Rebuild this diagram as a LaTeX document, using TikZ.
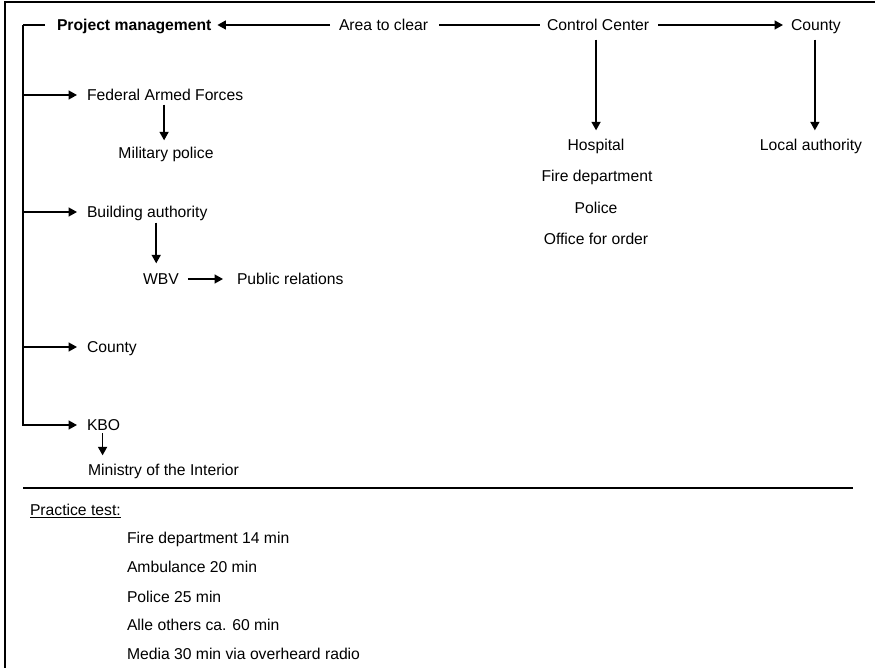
\documentclass[tikz,border=0pt]{standalone}
\usepackage{fontspec}
\setmainfont{Liberation Sans}
\usetikzlibrary{arrows.meta}
\tikzset{
  txt/.style={inner sep=0pt, outer sep=0pt, text height=11.3pt, text depth=0pt, font=\fontsize{15.7}{18}\selectfont},
  ln/.style={line width=1.6pt, draw=black},
  arr/.style={ln, -{Triangle[length=8.5pt,width=9pt]}},
  frame/.style={line width=2.6pt, draw=black},
}
\begin{document}
\begin{tikzpicture}[x=1pt,y=-1pt]
\useasboundingbox (0,0) rectangle (875,668);
% frame
\draw[frame] (5,668) -- (5,2) -- (875,2);

% top row
\node[txt, anchor=west, font=\fontsize{15.7}{18}\selectfont\bfseries] (pm) at (57,25) {Project management};
\node[txt, anchor=west] (area) at (339,25) {Area to clear};
\node[txt, anchor=west] (cc) at (547,25) {Control Center};
\node[txt, anchor=west] (cty) at (791,25) {County};

% right column
\node[txt] (hosp) at (596,145) {Hospital};
\node[txt] (fire) at (597,176) {Fire department};
\node[txt] (pol) at (596,208) {Police};
\node[txt] (off) at (596,239) {Office for order};
\node[txt] (la) at (811,145) {Local authority};

% left tree
\coordinate (trunk) at (23,25);
\node[txt, anchor=west] (fed) at (87,95) {Federal Armed Forces};
\node[txt] (mp) at (166,153) {Military police};
\node[txt, anchor=west] (ba) at (87,212) {Building authority};
\node[txt, anchor=west] (wbv) at (143,279) {WBV};
\node[txt, anchor=west] (pr) at (237,279) {Public relations};
\node[txt, anchor=west] (cty2) at (87,347) {County};
\node[txt, anchor=west] (kbo) at (87,425) {KBO};
\node[txt, anchor=west] (min) at (88,470) {Ministry of the Interior};

% connectors top
\draw[arr, shorten <=9pt, shorten >=6pt] (area.west) -- (pm.east);
\draw[ln, shorten <=11pt, shorten >=7pt] (area.east) -- (cc.west);
\draw[arr, shorten <=9pt, shorten >=8pt] (cc.east) -- (cty.west);
\draw[arr, shorten <=9pt, shorten >=9pt] ([xshift=-2pt]cc.south) -- ([xshift=-2pt]cc.south |- hosp.north);
\draw[arr, shorten <=9pt, shorten >=9pt] ([xshift=-1pt]cty.south) -- ([xshift=-1pt]cty.south |- la.north);

% left tree connectors
\draw[ln, shorten <=12pt] (pm.west) -- (trunk);
\draw[arr, shorten >=10pt] (trunk) |- (kbo.west);
\draw[arr, shorten >=10pt] (trunk |- fed.west) -- (fed.west);
\draw[arr, shorten >=10pt] (trunk |- ba.west) -- (ba.west);
\draw[arr, shorten >=10pt] (trunk |- cty2.west) -- (cty2.west);
\draw[arr, shorten <=4pt, shorten >=7pt] ([xshift=-1pt]fed.south) -- ([xshift=-1pt]fed.south |- mp.north);
\draw[arr, shorten <=5pt, shorten >=10pt] ([xshift=9pt]ba.south) -- ([xshift=9pt]ba.south |- wbv.north);
\draw[arr, shorten <=9pt, shorten >=14pt] (wbv.east) -- (pr.west);
\draw[arr, shorten <=2.5pt, shorten >=9pt] ([xshift=-1pt]kbo.south) -- ([xshift=-1pt]kbo.south |- min.north);

% separator
\draw[line width=1.6pt] (23,488) -- (853,488);

% practice test
\node[txt, anchor=west] (pt) at (30,510) {\underline{Practice test:}};
\node[txt, anchor=west] (t1) at (127,538) {Fire department 14 min};
\node[txt, anchor=west] (t2) at (127,567) {Ambulance 20 min};
\node[txt, anchor=west] (t3) at (127,597) {Police 25 min};
\node[txt, anchor=west] (t4) at (127,625) {Alle others ca. 60 min};
\node[txt, anchor=west] (t5) at (127,654) {Media 30 min via overheard radio};
\end{tikzpicture}
\end{document}
